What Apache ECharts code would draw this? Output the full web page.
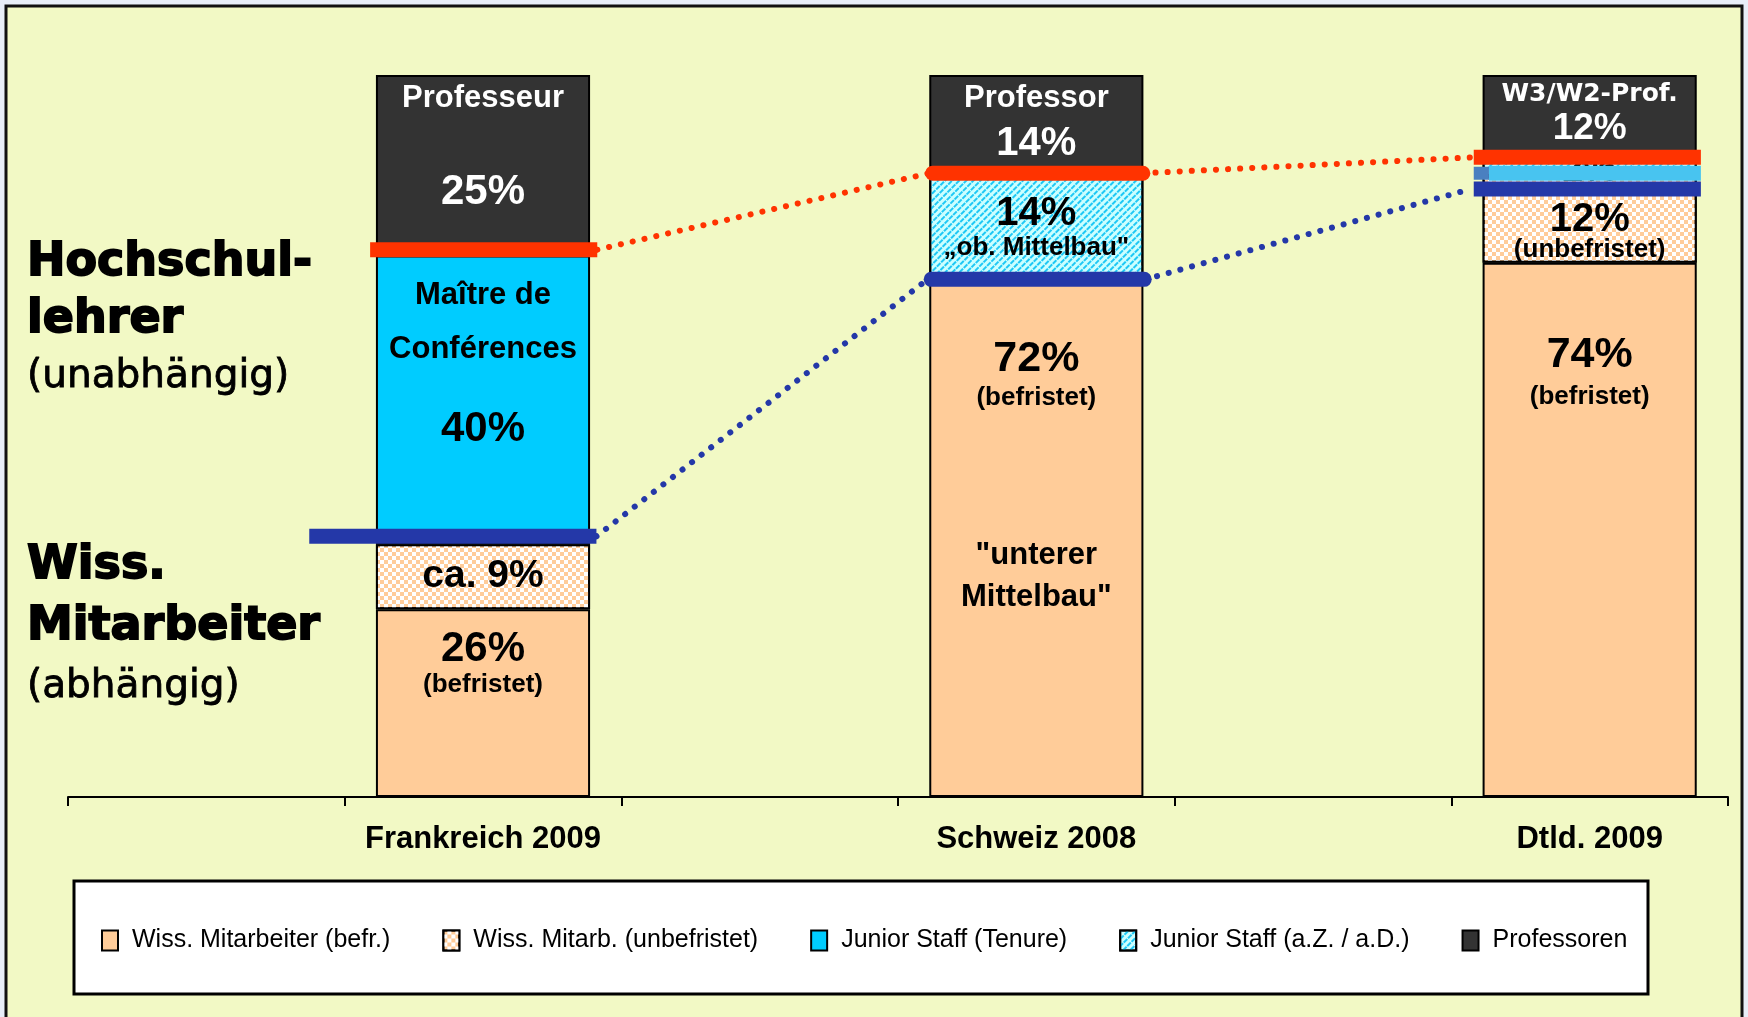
<!DOCTYPE html>
<html>
<head>
<meta charset="utf-8">
<script src="https://cdn.jsdelivr.net/npm/echarts@6/dist/echarts.min.js"></script>
<style>
  html, body { margin: 0; padding: 0; background: #e8eef8; }
  #chart { width: 1748px; height: 1017px; }
</style>
</head>
<body>
<div id="chart"></div>
<script>
// Kategorien (leere Kategorien als Abstand, wie im Original)
const categories = ['', 'Frankreich 2009', '', 'Schweiz 2008', '', 'Dtld. 2009'];
const seriesNames = ['Wiss. Mitarbeiter (befr.)', 'Wiss. Mitarb. (unbefristet)', 'Junior Staff (Tenure)', 'Junior Staff (a.Z. / a.D.)', 'Professoren'];

// Anteile in %
const befristet   = [null, 26, null, 72, null, 74];
const unbefristet = [null, 9, null, null, null, 12];
const tenure      = [null, 40, null, null, null, null];
const azad        = [null, null, null, 14, null, 2];
const professoren = [null, 25, null, 14, null, 12];

// Grenzlinien (in %), je Land: Frankreich, Schweiz, Dtld.
const hochschullehrerLevel = [75.8, 86.4, 88.6];
const mitarbeiterLevel     = [36.1, 71.7, 84.2];
const juniorLevelDtld      = 86.4;

const W = '#ffffff', B = '#000000';
const FONT = 'Liberation Sans, Arial, sans-serif';
const HEAVY = 'DejaVu Sans, sans-serif';

// Beschriftungen in den Balken: [text, fontSize, Mitte ab Segment-Oberkante (px), Farbe, Schrift]
const labelSpec = {
  0: { 1: [['26%', 42, 40], ['(befristet)', 26, 76]],
       3: [['72%', 43, 82], ['(befristet)', 26, 121], ['"unterer', 31, 278], ['Mittelbau"', 31, 320]],
       5: [['74%', 43, 92], ['(befristet)', 26, 134]] },
  1: { 1: [['ca. 9%', 39, 32]],
       5: [['12%', 40, 44], ['(unbefristet)', 26, 74]] },
  2: { 1: [['Maître de', 31, 40], ['Conférences', 31, 94], ['40%', 42, 174]] },
  3: { 3: [['14%', 40, 38], ['„ob. Mittelbau"', 26, 72]],
       5: [['2%', 38, 9]] },
  4: { 1: [['Professeur', 31, 23, W], ['25%', 42, 117, W]],
       3: [['Professor', 31, 23, W], ['14%', 40, 69, W]],
       5: [['W3/W2-Prof.', 25, 19, W, HEAVY], ['12%', 37, 54, W]] }
};

// mehrzeiliges Label: Textzeilen mit fester Zeilenhöhe, dazwischen Leerzeilen als Abstand
function makeLabel(lines) {
  const TH = 20;
  const rich = {};
  const parts = [];
  const startY = lines[0][2] - TH / 2;
  let prevBottom = startY;
  lines.forEach((l, i) => {
    if (i > 0) {
      rich['s' + i] = { fontSize: 1, lineHeight: (l[2] - TH / 2) - prevBottom };
      parts.push('{s' + i + '| }');
    }
    rich['t' + i] = {
      fontSize: l[1], fontWeight: 'bold', color: l[3] || B,
      fontFamily: l[4] || FONT, lineHeight: TH
    };
    parts.push('{t' + i + '|' + l[0] + '}');
    prevBottom = l[2] + TH / 2;
  });
  return {
    show: true, position: ['50%', startY], align: 'center', verticalAlign: 'top',
    formatter: parts.join('\n'), rich: rich
  };
}

function barData(values, si) {
  return values.map((v, ci) => {
    if (v == null) return '-';
    const spec = labelSpec[si] && labelSpec[si][ci];
    return spec ? { value: v, label: makeLabel(spec) } : v;
  });
}

const barStyles = [
  { color: '#ffcc99' },
  { color: '#ffcc99', decal: { symbol: 'rect', symbolSize: 1, color: '#ffffff',
      dashArrayX: [[4, 4], [0, 4, 4, 0]], dashArrayY: [4, 0] } },
  { color: '#00ccff' },
  { color: '#ccffff', decal: { symbol: 'rect', symbolSize: 1, color: '#1ec8f5',
      dashArrayX: [[5, 1]], dashArrayY: [2, 2.3], rotation: -Math.PI / 4 } },
  { color: '#333333' }
];
const allValues = [befristet, unbefristet, tenure, azad, professoren];

const series = allValues.map((vals, si) => ({
  name: seriesNames[si],
  type: 'bar',
  stack: 'total',
  barWidth: '77.4%',
  data: barData(vals, si),
  itemStyle: Object.assign({ borderColor: '#000', borderWidth: 2 }, barStyles[si]),
  z: 2
}));

// Linien auf einer versteckten Werteachse 0..6 (Kategorie i hat Mitte i+0.5)
function segment(x0, x1, y0, y1, color, width, type, cap) {
  series.push({
    type: 'line', xAxisIndex: 1, yAxisIndex: 0, symbol: 'none', silent: true, z: 5,
    data: [[x0, y0], [x1, y1]],
    lineStyle: { color: color, width: width, type: type || 'solid', cap: cap || 'butt' }
  });
}
const RED = '#ff3300', BLUE = '#2438a8', LBLUE = '#48c4f0';
const dots = [0.1, 12];
// gepunktete Verbindungen
segment(1.913, 3.113, hochschullehrerLevel[0], hochschullehrerLevel[1], RED, 6, dots, 'round');
segment(3.887, 5.081, hochschullehrerLevel[1], hochschullehrerLevel[2], RED, 6, dots, 'round');
segment(1.91, 3.107, mitarbeiterLevel[0], mitarbeiterLevel[1], BLUE, 6, dots, 'round');
segment(3.894, 5.07, mitarbeiterLevel[1], mitarbeiterLevel[2], BLUE, 6, dots, 'round');
// dicke Grenzlinien
segment(1.092, 1.913, hochschullehrerLevel[0], hochschullehrerLevel[0], RED, 15);
segment(0.872, 1.91, mitarbeiterLevel[0], mitarbeiterLevel[0], BLUE, 15);
segment(3.125, 3.885, hochschullehrerLevel[1], hochschullehrerLevel[1], RED, 15, 'solid', 'round');
segment(3.12, 3.89, mitarbeiterLevel[1], mitarbeiterLevel[1], BLUE, 15, 'solid', 'round');
segment(5.081, 5.902, hochschullehrerLevel[2], hochschullehrerLevel[2], RED, 15);
segment(5.136, 5.902, juniorLevelDtld, juniorLevelDtld, LBLUE, 15);
segment(5.081, 5.136, juniorLevelDtld, juniorLevelDtld, '#4a80c0', 13);
segment(5.081, 5.902, mitarbeiterLevel[2], mitarbeiterLevel[2], BLUE, 15);

const chart = echarts.init(document.getElementById('chart'));

function leftText(text, y, size, heavy) {
  return {
    type: 'text', x: 27, y: y, z: 3,
    style: {
      text: text, fill: '#000', verticalAlign: 'middle',
      stroke: '#000', lineWidth: heavy ? 1.8 : 0.8,
      font: (heavy ? 'bold ' : '') + size + 'px DejaVu Sans, sans-serif'
    }
  };
}

const option = {
  backgroundColor: '#e8eef8',
  animation: false,
  grid: { left: 68, right: 20, top: 75, bottom: 220, containLabel: false },
  xAxis: [
    {
      type: 'category', data: categories,
      axisLine: { lineStyle: { color: '#000', width: 2 } },
      axisTick: { show: true, length: 9, lineStyle: { color: '#000', width: 2 } },
      axisLabel: { interval: 0, margin: 27, color: '#000', fontSize: 31, fontWeight: 'bold', fontFamily: FONT }
    },
    { type: 'value', min: 0, max: 6, show: false }
  ],
  yAxis: { type: 'value', min: 0, max: 100, show: false },
  legend: {
    data: seriesNames, left: 101, top: 928, padding: 0,
    icon: 'rect', itemWidth: 16, itemHeight: 20, itemGap: 52,
    itemStyle: { borderColor: '#000', borderWidth: 2 },
    textStyle: { fontFamily: FONT, fontSize: 25, color: '#000', padding: [0, 0, 0, 9] }
  },
  graphic: [
    { type: 'rect', z: -10, shape: { x: 6, y: 6, width: 1736, height: 1030 },
      style: { fill: '#f2f9c5', stroke: '#111', lineWidth: 3 } },
    { type: 'rect', z: 1, shape: { x: 74, y: 881, width: 1574, height: 113 },
      style: { fill: '#ffffff', stroke: '#000', lineWidth: 3 } },
    leftText('Hochschul-', 263, 46, true),
    leftText('lehrer', 320, 46, true),
    leftText('(unabhängig)', 377, 39, false),
    leftText('Wiss.', 566, 46, true),
    leftText('Mitarbeiter', 627, 46, true),
    leftText('(abhängig)', 687, 39, false)
  ],
  series: series
};

chart.setOption(option);
</script>
</body>
</html>
